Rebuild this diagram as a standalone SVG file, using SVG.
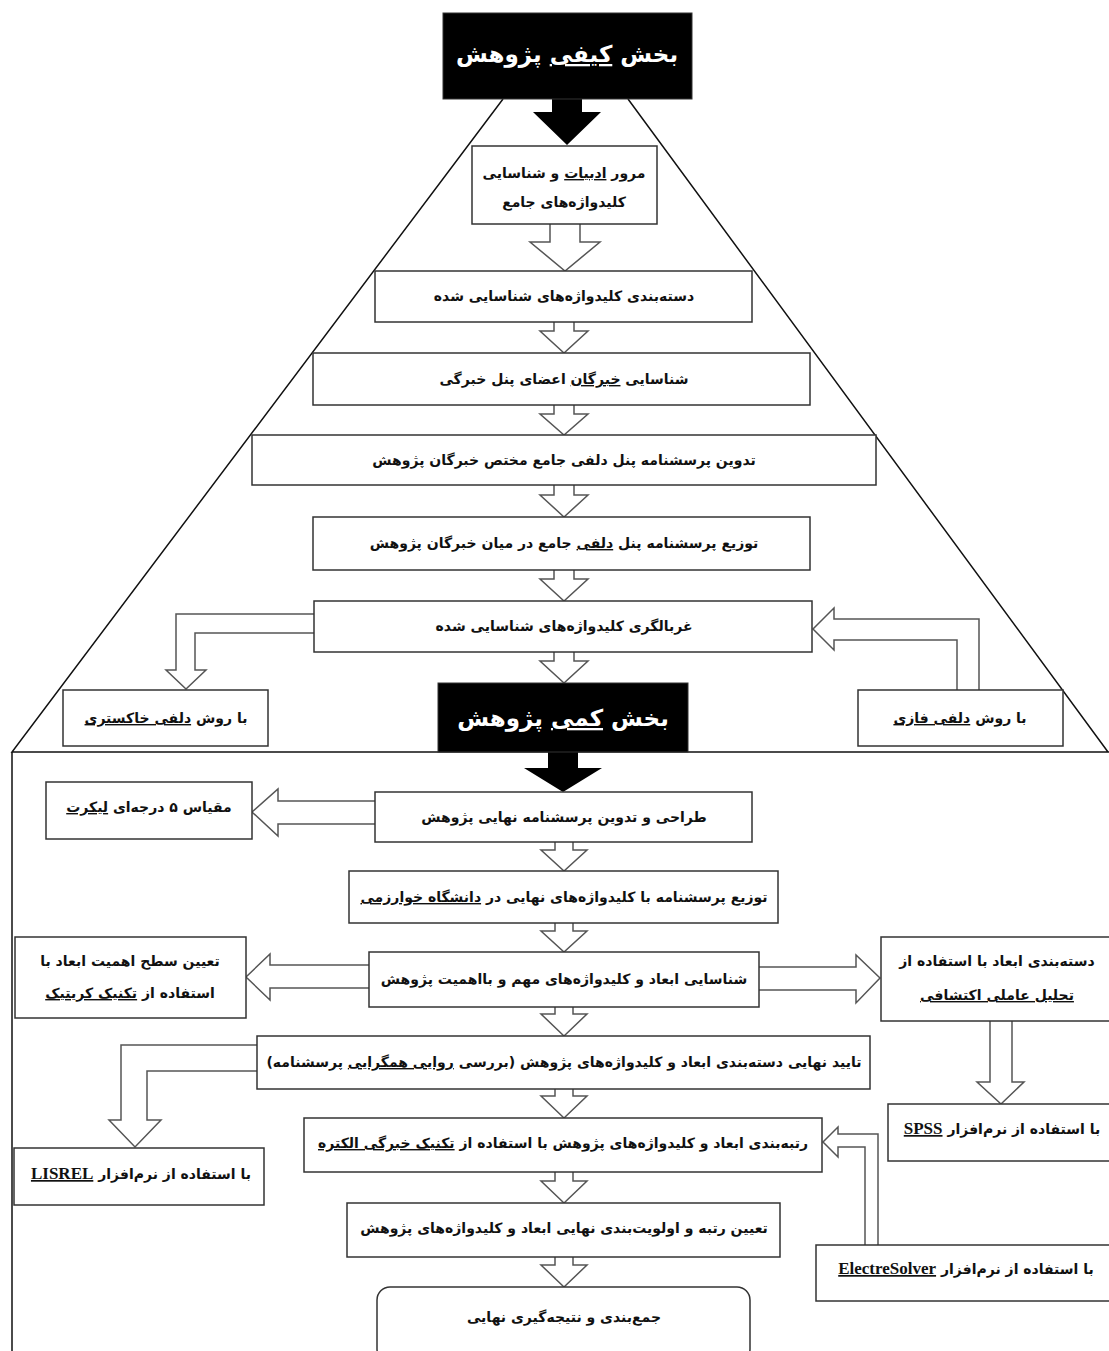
<svg xmlns="http://www.w3.org/2000/svg" width="1109" height="1351" viewBox="0 0 1109 1351">
<style>
.bx{fill:#fff;stroke:#333;stroke-width:1.5}
.bk{fill:#000;stroke:#333;stroke-width:1}
.ar{fill:#fff;stroke:#555;stroke-width:1.5;stroke-linejoin:miter}
.ln{fill:none;stroke:#111;stroke-width:1.5}
.t{font-family:"DejaVu Sans",sans-serif;font-weight:bold;font-size:14px;fill:#111;text-anchor:middle;direction:rtl}
.tt{font-family:"DejaVu Sans",sans-serif;font-weight:bold;font-size:23px;fill:#fff;text-anchor:middle;direction:rtl}
.u{text-decoration:underline}
.en{font-family:"Liberation Serif",serif;font-weight:bold;font-size:17px}
</style>
<g id="frame">
<path class="ln" d="M503,99 L12,752 L1109,752 M628,99 L1108,752 M12,752 L12,1351"/>
</g>
<g id="connectors">
<polygon fill="#000" points="552,99 552,112 533,112 567,145 601,112 582,112 582,99"/>
<path class="ar" d="M550,224 L550,242 L530,242 L565,271 L600,242 L580,242 L580,224"/>
<path class="ar" d="M554,322 L554,331 L540,331 L564,353 L588,331 L574,331 L574,322"/>
<path class="ar" d="M554,405 L554,414 L540,414 L564,435 L588,414 L574,414 L574,405"/>
<path class="ar" d="M554,485 L554,495 L540,495 L564,517 L588,495 L574,495 L574,485"/>
<path class="ar" d="M554,570 L554,579 L540,579 L564,601 L588,579 L574,579 L574,570"/>
<path class="ar" d="M554,652 L554,661 L540,661 L564,683 L588,661 L574,661 L574,652"/>
<path class="ar" d="M314,614 L176,614 L176,670 L166,670 L186,689 L206,670 L195,670 L195,633 L314,633"/>
<path class="ar" d="M979,690 L979,619 L834,619 L834,608 L813,629 L834,650 L834,640 L957,640 L957,690"/>
<polygon fill="#000" points="548,752 548,768 524,768 563,792 602,768 578,768 578,752"/>
<path class="ar" d="M375,801 L278,801 L278,789 L252,812 L278,836 L278,824 L375,824"/>
<path class="ar" d="M555,842 L555,850 L541,850 L564,871 L587,850 L573,850 L573,842"/>
<path class="ar" d="M555,923 L555,931 L541,931 L564,952 L587,931 L573,931 L573,923"/>
<path class="ar" d="M369,965 L270,965 L270,954 L246,977 L270,1000 L270,988 L369,988"/>
<path class="ar" d="M759,967 L856,967 L856,955 L880,978 L856,1003 L856,990 L759,990"/>
<path class="ar" d="M990,1021 L990,1082 L977,1082 L1001,1104 L1024,1082 L1012,1082 L1012,1021"/>
<path class="ar" d="M555,1007 L555,1014 L541,1014 L564,1036 L587,1014 L573,1014 L573,1007"/>
<path class="ar" d="M257,1045 L121,1045 L121,1120 L109,1120 L135,1147 L161,1120 L147,1120 L147,1071 L257,1071"/>
<path class="ar" d="M555,1089 L555,1096 L541,1096 L564,1118 L587,1096 L573,1096 L573,1089"/>
<path class="ar" d="M878,1245 L878,1134 L838,1134 L838,1127 L823,1142 L838,1157 L838,1147 L865,1147 L865,1245"/>
<path class="ar" d="M555,1172 L555,1181 L541,1181 L564,1203 L587,1181 L573,1181 L573,1172"/>
<path class="ar" d="M555,1257 L555,1265 L541,1265 L564,1287 L587,1265 L573,1265 L573,1257"/>
</g>
<g id="n_title1"><rect class="bk" x="443" y="13" width="249" height="86"/><text class="tt" x="567" y="62">بخش <tspan class="u">کیفی</tspan> پژوهش</text></g>
<g id="n1"><rect class="bx" x="472" y="146" width="185" height="78"/><text class="t" x="564" y="178">مرور <tspan class="u">ادبیات</tspan> و شناسایی</text><text class="t" x="564" y="207">کلیدواژه‌های جامع</text></g>
<g id="n2"><rect class="bx" x="375" y="271" width="377" height="51"/><text class="t" x="564" y="301">دسته‌بندی کلیدواژه‌های شناسایی شده</text></g>
<g id="n3"><rect class="bx" x="313" y="353" width="497" height="52"/><text class="t" x="564" y="384">شناسایی <tspan class="u">خبرگان</tspan> اعضای پنل خبرگی</text></g>
<g id="n4"><rect class="bx" x="252" y="435" width="624" height="50"/><text class="t" x="564" y="465">تدوین پرسشنامه پنل دلفی جامع مختص خبرگان پژوهش</text></g>
<g id="n5"><rect class="bx" x="313" y="517" width="497" height="53"/><text class="t" x="564" y="548">توزیع پرسشنامه پنل <tspan class="u">دلفی</tspan> جامع در میان خبرگان پژوهش</text></g>
<g id="n6"><rect class="bx" x="314" y="601" width="498" height="51"/><text class="t" x="564" y="631">غربالگری کلیدواژه‌های شناسایی شده</text></g>
<g id="n_grey"><rect class="bx" x="63" y="690" width="205" height="56"/><text class="t" x="166" y="723">با روش <tspan class="u">دلفی خاکستری</tspan></text></g>
<g id="n_fuzzy"><rect class="bx" x="858" y="690" width="205" height="56"/><text class="t" x="960" y="723">با روش <tspan class="u">دلفی فازی</tspan></text></g>
<g id="n_title2"><rect class="bk" x="438" y="683" width="250" height="69"/><text class="tt" x="563" y="726">بخش <tspan class="u">کمی</tspan> پژوهش</text></g>
<g id="n7"><rect class="bx" x="375" y="792" width="377" height="50"/><text class="t" x="564" y="822">طراحی و تدوین پرسشنامه نهایی پژوهش</text></g>
<g id="n_likert"><rect class="bx" x="46" y="782" width="206" height="57"/><text class="t" x="149" y="812">مقیاس ۵ درجه‌ای <tspan class="u">لیکرت</tspan></text></g>
<g id="n8"><rect class="bx" x="349" y="871" width="429" height="52"/><text class="t" x="564" y="902">توزیع پرسشنامه با کلیدواژه‌های نهایی در <tspan class="u">دانشگاه خوارزمی</tspan></text></g>
<g id="n9"><rect class="bx" x="369" y="952" width="390" height="55"/><text class="t" x="564" y="984">شناسایی ابعاد و کلیدواژه‌های مهم و بااهمیت پژوهش</text></g>
<g id="n_critic"><rect class="bx" x="15" y="937" width="231" height="81"/><text class="t" x="130" y="966">تعیین سطح اهمیت ابعاد با</text><text class="t" x="130" y="998">استفاده از <tspan class="u">تکنیک کریتیک</tspan></text></g>
<g id="n_efa"><rect class="bx" x="881" y="937" width="240" height="84"/><text class="t" x="997" y="966">دسته‌بندی ابعاد با استفاده از</text><text class="t" x="997" y="1000"><tspan class="u">تحلیل عاملی اکتشافی</tspan></text></g>
<g id="n10"><rect class="bx" x="257" y="1036" width="613" height="53"/><text class="t" x="564" y="1067">تایید نهایی دسته‌بندی ابعاد و کلیدواژه‌های پژوهش (بررسی <tspan class="u">روایی همگرایی</tspan> پرسشنامه)</text></g>
<g id="n_lisrel"><rect class="bx" x="14" y="1148" width="250" height="57"/><text class="t" x="141" y="1179">با استفاده از نرم‌افزار <tspan class="u en">LISREL</tspan></text></g>
<g id="n11"><rect class="bx" x="304" y="1118" width="518" height="54"/><text class="t" x="563" y="1148">رتبه‌بندی ابعاد و کلیدواژه‌های پژوهش با استفاده از <tspan class="u">تکنیک خبرگی الکتره</tspan></text></g>
<g id="n_spss"><rect class="bx" x="888" y="1104" width="240" height="57"/><text class="t" x="1002" y="1134">با استفاده از نرم‌افزار <tspan class="u en">SPSS</tspan></text></g>
<g id="n12"><rect class="bx" x="347" y="1203" width="433" height="54"/><text class="t" x="564" y="1233">تعیین رتبه و اولویت‌بندی نهایی ابعاد و کلیدواژه‌های پژوهش</text></g>
<g id="n_electre"><rect class="bx" x="816" y="1245" width="310" height="56"/><text class="t" x="966" y="1274">با استفاده از نرم‌افزار <tspan class="u en">ElectreSolver</tspan></text></g>
<g id="n13"><rect class="bx" x="377" y="1287" width="373" height="75" rx="13"/><text class="t" x="564" y="1322">جمع‌بندی و نتیجه‌گیری نهایی</text></g>
</svg>
